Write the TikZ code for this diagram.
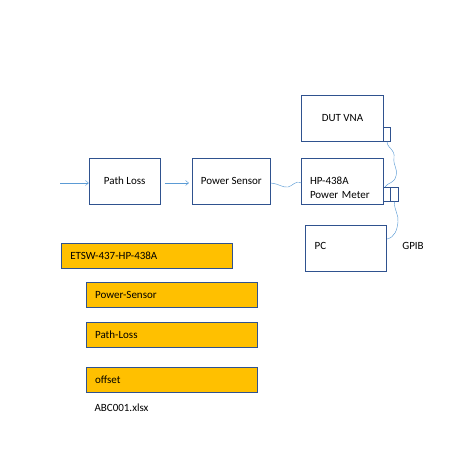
\documentclass[tikz,border=0pt]{standalone}
\usepackage{fontspec}
\setmainfont{Carlito}
\usetikzlibrary{arrows.meta}
\definecolor{boxline}{HTML}{2F528F}
\definecolor{wire}{HTML}{5B9BD5}
\definecolor{orng}{HTML}{FFC000}
\begin{document}
\begin{tikzpicture}[x=1pt,y=-1pt,font=\fontsize{11}{14}\selectfont,
  blk/.style={draw=boxline,line width=0.8pt,fill=white,minimum width=71pt,minimum height=46pt,inner sep=0pt},
  obox/.style={draw=boxline,line width=0.8pt,fill=orng,minimum height=25pt,inner sep=0pt,anchor=north west},
  port/.style={draw=boxline,line width=0.6pt,fill=white,inner sep=0pt,minimum width=7.4pt,minimum height=14pt},
  wirel/.style={draw=wire,line width=0.45pt},
  arr/.style={wirel,-{Straight Barb[length=3pt,width=5pt]}}]
\useasboundingbox (0,0) rectangle (460,460);
% blocks
\node[blk] (pl) at (124.7,181.2) {Path Loss};
\node[blk,minimum width=78pt] (ps) at (231.3,181.2) {Power Sensor};
\node[blk,minimum width=81.6pt,align=left,text width=65pt,text depth=0pt] (pm) at (342.5,181.2) {HP-438A\\Power Meter};
\node[blk,minimum width=81.6pt] (dut) at (342.5,118) {DUT VNA};
\node[blk,minimum width=81pt,text width=63pt,align=left] (pc) at (346.2,248.7) {\raisebox{6pt}{PC}};
% ports
\node[port] (dp) at (387,134.3) {};
\node[port] (hp1) at (387,194.3) {};
\node[port] (hp2) at (394.4,194.3) {};
\node (gpib) at (413,245.5) {GPIB};
% arrows
\coordinate (in) at (60,183);
\draw[arr] (in) -- (pl.west|-in);
\draw[arr] (pl.east|-in) ++(4,0) -- ([xshift=-3pt]ps.west|-in);
% wavy cables
\draw[wirel] (ps.east|-in) .. controls (280,184) and (283,188) .. (288,187)
  .. controls (293,186) and (295,180) .. (pm.west|-in);
\draw[wirel] (dp.south) .. controls (388,150) and (395,148) .. (394,158)
  .. controls (393,166) and (398,168) .. (396,176)
  .. controls (394,184) and (388,182) .. (385,187);
\draw[wirel] (hp2.south) .. controls (394,210) and (399,215) .. (398,222)
  .. controls (397,230) and (395,237) .. (pc.east|-0,239);
% orange boxes
\node[obox,minimum width=170.7pt,text width=153pt,align=left] (e) at (61,243.3) {ETSW-437-HP-438A};
\node[obox,minimum width=171pt,text width=153pt,align=left] (s) at (85.7,282.3) {Power-Sensor};
\node[obox,minimum width=171pt,text width=153pt,align=left] (p) at (85.7,321.7) {Path-Loss};
\node[obox,minimum width=171pt,text width=153pt,align=left] (o) at (85.7,367.3) {offset};
\node[anchor=west] (x) at (91,408) {ABC001.xlsx};
\end{tikzpicture}
\end{document}
